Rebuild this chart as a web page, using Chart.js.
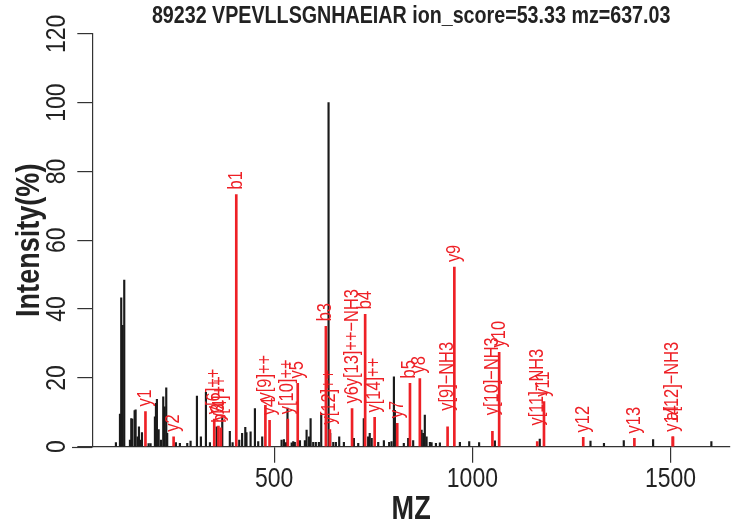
<!DOCTYPE html>
<html>
<head>
<meta charset="utf-8">
<style>
	html, body { margin: 0; padding: 0; background: #fff; }
	canvas { display: block; }
</style>
</head>
<body>
<canvas id="spec" width="734" height="530"></canvas>

<script src="https://cdn.jsdelivr.net/npm/chart.js"></script>
<script>

	// unannotated peaks (m/z, relative intensity %)
	const blackMz = [100.6, 110.8, 114, 117.6, 121.6, 136, 139.3, 141.8, 147.8, 150.3, 155.4, 158.7, 163, 166.3, 183, 188,
		199, 201.6, 204, 208.4, 214.2, 220, 223.5, 227.6, 230, 252, 262, 280.6, 289, 305, 315, 327.7, 337.8, 354.7, 368.9,
		388, 395, 411.7, 419, 427, 430, 440.4, 451.3, 459.6, 469.7, 518.6, 524.5, 529.5, 533.5, 544, 548, 552, 565, 577.4,
		581.7, 588, 591.8, 598.4, 605, 612.7, 618.6, 637.1, 641.3, 649, 655.6, 664, 675.8, 701, 712, 726, 737, 741, 746,
		762.4, 776.7, 790, 796, 802, 804.5, 827, 838, 850.6, 871.8, 876, 880, 884.4, 892.8, 897, 908, 918, 968.5, 992,
		1017, 1056.8, 1170, 1298, 1332, 1382, 1456, 1603]
	const blackInt = [1.2, 9.5, 43.3, 35.3, 48.4, 1.9, 8.2, 8, 10.5, 10.7, 2.9, 5.8, 1.9, 4.1, 0.9, 0.9,
		8.7, 12.6, 13.8, 5, 1.9, 14.5, 11.6, 17.1, 3.9, 1.2, 1, 1, 1.6, 14.7, 2.9, 15.8, 1.2, 5.8, 8.7,
		4.5, 1.2, 1.9, 3.9, 5.6, 4.1, 4.3, 11.1, 1.5, 2.9, 1.9, 2.1, 1.2, 11.2, 1.1, 1.5, 1.3, 1.8, 1.8,
		4.8, 2.9, 8.2, 1.3, 1.3, 1.3, 9.7, 100, 3.9, 1.3, 1.3, 2.9, 1.3, 2.4, 1, 8.2, 2.9, 3.9, 2.4,
		1.3, 1.8, 1.3, 1.5, 20.3, 10.6, 1, 2.4, 1.8, 4.8, 3.9, 9.2, 2.9, 1.3, 1.2, 1, 1.1, 1.3, 1.5,
		1.2, 1.7, 2.2, 1.6, 1, 1.8, 2.1, 1.5]

	// matched fragment ions
	const ionMz = [175.12, 246.16, 348.69, 359.24, 365.23, 404.28, 477.74, 488.28, 534.28, 559.32, 630.38, 640.36,
		696.38, 729.45, 753.41, 810.42, 842.53, 867.44, 937.45, 954.48, 1050.53, 1067.56, 1163.62, 1180.64,
		1279.71, 1408.75, 1505.81, 1505.83]
	const ionInt = [10.2, 2.9, 8, 6, 5.5, 73.3, 12, 7.7, 8, 18.4, 35, 5,
		11.1, 38.5, 8.5, 6.8, 18.4, 19.8, 5.8, 52.2, 4.5, 27.4, 1.5, 13.1,
		2.7, 2.4, 2.9, 2.9]
	const ionLabels = ['y1', 'y2', 'y[6]++', 'y3', 'b[4]++', 'b1', 'y[9]++', 'y4', 'y[10]++', 'y5', 'b3', 'y[12]++',
		'y6y[13]++−NH3', 'b4', 'y[14]++', 'y7', 'b5', 'y8', 'y[9]−NH3', 'y9', 'y[10]−NH3', 'y10', 'y[11]−NH3', 'y11',
		'y12', 'y13', 'y14', 'a[12]−NH3']

	const xTicks = [500, 1000, 1500]
	const yTicks = [0, 20, 40, 60, 80, 100, 120]

	const titleText = '89232 VPEVLLSGNHAEIAR ion_score=53.33 mz=637.03'

	const FONT = '"Liberation Sans", Arial, sans-serif'
	const NARROW = 0.82   // no narrow face installed, so squeeze glyphs along the text direction
	const RED = '#ee2026'

	const narrowTextPlugin = {
		id: 'narrowText',
		beforeInit(chart) {
			const ctx = chart.ctx
			const fill = ctx.fillText.bind(ctx)
			ctx.fillText = function (text, x, y) {
				ctx.save()
				ctx.translate(x, y)
				ctx.scale(NARROW, 1)
				fill(text, 0, 0)
				ctx.restore()
			}
		}
	}

	// rotated ion labels above the red peaks
	const ionLabelPlugin = {
		id: 'ionLabels',
		afterDatasetsDraw(chart) {
			const ctx = chart.ctx
			const xs = chart.scales.x
			const ys = chart.scales.y
			ctx.save()
			ctx.fillStyle = RED
			ctx.font = '20px ' + FONT
			ctx.textAlign = 'left'
			ctx.textBaseline = 'middle'
			ionMz.forEach((m, i) => {
				const gap = /^[ya]\[\d+\]−NH3$/.test(ionLabels[i]) ? 16 : 5
				ctx.save()
				ctx.translate(xs.getPixelForValue(m), ys.getPixelForValue(ionInt[i]) - gap)
				ctx.rotate(-Math.PI / 2)
				ctx.fillText(ionLabels[i], 0, 0)
				ctx.restore()
			})
			ctx.restore()
		},
		afterDraw(chart) {
			// zero line runs a little past the y axis, as in base R
			const ctx = chart.ctx
			const y0 = Math.round(chart.scales.y.getPixelForValue(0)) + 0.5
			ctx.save()
			ctx.strokeStyle = '#333'
			ctx.lineWidth = 1.2
			ctx.beginPath()
			ctx.moveTo(72, y0)
			ctx.lineTo(chart.chartArea.left, y0)
			ctx.stroke()
			ctx.restore()
		}
	}

	const chart = new Chart(document.getElementById('spec'), {
		type: 'bar',
		data: {
			datasets: [{
				data: blackMz.map((m, i) => ({ x: m, y: blackInt[i] })),
				backgroundColor: '#1a1a1a',
				barThickness: 1.5,
				grouped: false,
				order: 2
			}, {
				data: ionMz.map((m, i) => ({ x: m, y: ionInt[i] })),
				backgroundColor: RED,
				barThickness: 2,
				grouped: false,
				order: 1
			}]
		},
		options: {
			responsive: false,
			animation: false,
			devicePixelRatio: 1,
			layout: { padding: { left: 0, right: 4, top: 0, bottom: 0 } },
			plugins: {
				legend: { display: false },
				tooltip: { enabled: false },
				title: {
					display: true,
					text: titleText,
					fullSize: false,
					color: '#222',
					font: { family: FONT, size: 24, weight: 'bold', lineHeight: 1.2 },
					padding: { top: 2, bottom: 3 }
				}
			},
			scales: {
				x: {
					type: 'linear',
					min: 41,
					max: 1650,
					offset: false,
					afterBuildTicks: s => { s.ticks = xTicks.map(v => ({ value: v })) },
					afterFit: s => { s.height = 83.3 },
					grid: { display: true, offset: false, drawOnChartArea: false, tickLength: 16, color: '#333', lineWidth: 1.2 },
					border: { display: true, color: '#333', width: 1.2 },
					ticks: {
						color: '#222',
						padding: 0,
						maxRotation: 0,
						font: { family: FONT, size: 28, lineHeight: 1.2 },
						callback: v => String(v)
					},
					title: {
						display: true,
						text: 'MZ',
						color: '#222',
						font: { family: FONT, size: 33, weight: 'bold', lineHeight: 1.2 },
						padding: { top: 0, bottom: 0 }
					}
				},
				y: {
					min: 0,
					max: 120,
					afterBuildTicks: s => { s.ticks = yTicks.map(v => ({ value: v })) },
					afterFit: s => { s.width = 92.3 },
					grid: { display: true, drawOnChartArea: false, tickLength: 15, color: '#333', lineWidth: 1.2 },
					border: { display: true, color: '#333', width: 1.2 },
					ticks: {
						color: '#222',
						padding: -3,
						minRotation: 90,
						maxRotation: 90,
						crossAlign: 'center',
						font: { family: FONT, size: 28, lineHeight: 1.2 }
					},
					title: {
						display: true,
						text: 'Intensity(%)',
						color: '#222',
						font: { family: FONT, size: 33, weight: 'bold', lineHeight: 1.2 },
						padding: { top: 10, bottom: 0 }
					}
				}
			}
		},
		plugins: [narrowTextPlugin, ionLabelPlugin]
	})
</script>
</body>
</html>
